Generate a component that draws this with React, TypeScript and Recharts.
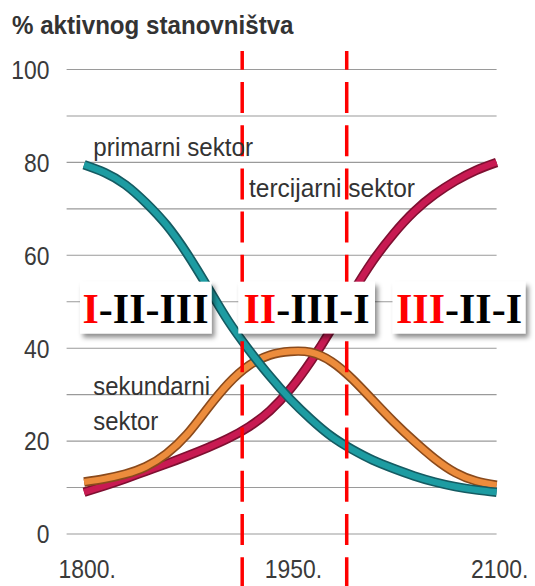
import React from 'react';
import { LineChart, Line, XAxis, YAxis, CartesianGrid, ReferenceLine } from 'recharts';

// ---- data ----
const years = [1800, 1815, 1830, 1845, 1860, 1875, 1890, 1905, 1920, 1935, 1950, 1965, 1980, 1995, 2010, 2025, 2040, 2055, 2070, 2085, 2100];
const primarni = [79.5, 77.8, 75.2, 71.3, 66.5, 60.3, 53.1, 45.8, 39.6, 34, 29, 24.7, 21, 18.2, 15.9, 14.1, 12.5, 11.2, 10.2, 9.5, 9];
const sekundarni = [11.2, 11.9, 12.9, 14.5, 17.3, 21.5, 27.1, 32.4, 36.3, 38.5, 39.3, 39.1, 37.1, 33.4, 28.8, 24.2, 20, 16.2, 13.2, 11.4, 10.5];
const tercijarni = [9, 10.4, 11.9, 13.5, 15.1, 16.8, 18.6, 20.6, 23.1, 26.5, 31.2, 37.2, 44.2, 51.8, 58.8, 64.6, 69.4, 73.1, 76, 78.3, 80];

const yTicks = [0, 20, 40, 60, 80, 100];
const gridValues = [0, 10, 20, 30, 40, 50, 60, 70, 80, 90, 100];
const xTicks = [1800, 1950, 2100];
const phaseBounds = [1915, 1991];

const title = '% aktivnog stanovništva';
const labelPrimarni = 'primarni sektor';
const labelTercijarni = 'tercijarni sektor';
const labelSekundarni1 = 'sekundarni';
const labelSekundarni2 = 'sektor';
const phaseLead = ['I', 'II', 'III'];
const phaseTail = ['-II-III', '-III-I', '-II-I'];

const rows = years.map((year, i) => ({
  year,
  primarni: primarni[i],
  sekundarni: sekundarni[i],
  tercijarni: tercijarni[i],
}));

// ---- styles ----
const SANS = "'Liberation Sans', Arial, sans-serif";
const SERIF = "'Liberation Serif', 'Times New Roman', serif";
const LABEL_COLOR = '#3a3a3a';

const XTick = (props: any) => {
  const { x, payload } = props;
  return (
    <text
      transform={`translate(${x - 25.5}, 578) scale(0.88,1)`}
      fontFamily={SANS}
      fontSize={26}
      fill={LABEL_COLOR}
    >
      {payload.value}.
    </text>
  );
};

const YTick = (props: any) => {
  const { y, payload } = props;
  return (
    <text
      transform={`translate(49.5, ${y + 9.3}) scale(0.88,1)`}
      textAnchor="end"
      fontFamily={SANS}
      fontSize={26}
      fill={LABEL_COLOR}
    >
      {payload.value}
    </text>
  );
};

const DashShape = (p: any) => (
  <line
    x1={p.x1}
    x2={p.x2}
    y1={51}
    y2={586}
    stroke="#ff0000"
    strokeWidth={3.5}
    strokeDasharray="31 12.2"
    strokeDashoffset={12.2}
  />
);

const series = [
  { key: 'tercijarni', fill: '#c81a52', edge: '#7e1031' },
  { key: 'sekundarni', fill: '#ec8c3c', edge: '#8a4a1c' },
  { key: 'primarni', fill: '#1d9ca2', edge: '#155b62' },
];

const boxes = [
  { x: 80, w: 131.7, tx: 82.5 },
  { x: 238.3, w: 136.7, tx: 243.5 },
  { x: 392.5, w: 133, tx: 396 },
];

export default function App() {
  return (
    <div style={{ position: 'absolute', left: 0, top: 0, width: 535, height: 586, background: '#fff' }}>
      <LineChart
        width={535}
        height={586}
        data={rows}
        margin={{ top: 69.5, right: 38.4, bottom: 0, left: 0 }}
      >
        <CartesianGrid
          vertical={false}
          horizontalValues={gridValues}
          stroke="#9a9a9a"
          strokeWidth={1.1}
        />
        <XAxis
          dataKey="year"
          type="number"
          domain={[1787.3, 2100]}
          ticks={xTicks}
          axisLine={false}
          tickLine={false}
          height={52}
          tick={<XTick />}
          interval={0}
        />
        <YAxis
          type="number"
          domain={[0, 100]}
          ticks={yTicks}
          axisLine={false}
          tickLine={false}
          width={66.6}
          tick={<YTick />}
          interval={0}
        />
        {series.flatMap((s) => [
          <Line
            key={s.key + '-edge'}
            dataKey={s.key}
            type="natural"
            stroke={s.edge}
            strokeWidth={9.5}
            dot={false}
            activeDot={false}
            isAnimationActive={false}
            strokeLinecap="butt"
          />,
          <Line
            key={s.key + '-fill'}
            dataKey={s.key}
            type="natural"
            stroke={s.fill}
            strokeWidth={6.2}
            dot={false}
            activeDot={false}
            isAnimationActive={false}
            strokeLinecap="butt"
          />,
        ])}
        {phaseBounds.map((b) => (
          <ReferenceLine key={b} x={b} shape={<DashShape />} />
        ))}
      </LineChart>
      <svg
        width={535}
        height={586}
        style={{ position: 'absolute', left: 0, top: 0, pointerEvents: 'none' }}
      >
        <defs>
          <filter id="sh" x="-20%" y="-30%" width="140%" height="170%">
            <feDropShadow dx={3} dy={4} stdDeviation={2.5} floodColor="#000" floodOpacity={0.45} />
          </filter>
        </defs>
        <text x={12} y={34} fontFamily={SANS} fontWeight="bold" fontSize={26} fill="#333" textLength={281.5} lengthAdjust="spacingAndGlyphs">
          {title}
        </text>
        <text x={93.3} y={156} fontFamily={SANS} fontSize={26} fill="#333" textLength={159.7} lengthAdjust="spacingAndGlyphs">
          {labelPrimarni}
        </text>
        <text x={249} y={197} fontFamily={SANS} fontSize={26} fill="#333" textLength={166} lengthAdjust="spacingAndGlyphs">
          {labelTercijarni}
        </text>
        <text x={93.3} y={395} fontFamily={SANS} fontSize={26} fill="#333" textLength={116.7} lengthAdjust="spacingAndGlyphs">
          {labelSekundarni1}
        </text>
        <text x={93.3} y={430} fontFamily={SANS} fontSize={26} fill="#333" textLength={65} lengthAdjust="spacingAndGlyphs">
          {labelSekundarni2}
        </text>
        {boxes.map((b, i) => (
          <g key={i}>
            <rect x={b.x} y={281.7} width={b.w} height={51.8} fill="#fff" filter="url(#sh)" />
            <text x={b.tx} y={323} fontFamily={SERIF} fontWeight="bold" fontSize={43} textLength={126} lengthAdjust="spacingAndGlyphs">
              <tspan fill="#ff0000">{phaseLead[i]}</tspan>
              <tspan fill="#000">{phaseTail[i]}</tspan>
            </text>
          </g>
        ))}
      </svg>
    </div>
  );
}
